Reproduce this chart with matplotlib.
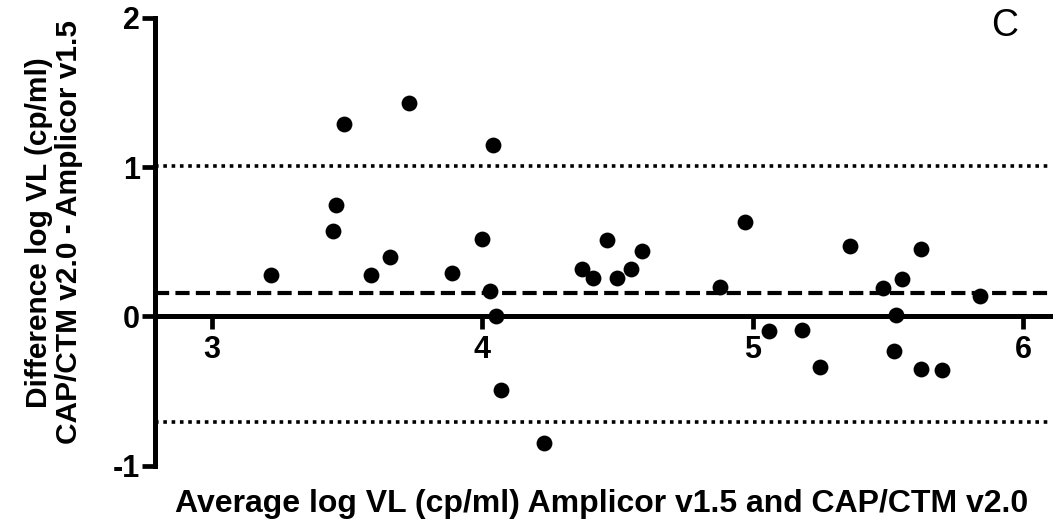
import matplotlib
matplotlib.use("Agg")
import matplotlib.pyplot as plt

plt.rcParams['font.family'] = ['Liberation Sans', 'DejaVu Sans']

avg_vl = [3.22, 3.45, 3.46, 3.49, 3.59, 3.66, 3.73, 3.89, 4.00, 4.04, 4.03, 4.05, 4.07, 4.23,
          4.37, 4.41, 4.46, 4.50, 4.55, 4.59, 4.88, 4.97, 5.06, 5.18, 5.25, 5.36, 5.48,
          5.52, 5.53, 5.55, 5.62, 5.62, 5.70, 5.84]
diff_vl = [0.28, 0.57, 0.75, 1.29, 0.28, 0.40, 1.43, 0.29, 0.52, 1.15, 0.17, 0.00, -0.49, -0.85,
           0.32, 0.26, 0.51, 0.26, 0.32, 0.44, 0.20, 0.63, -0.10, -0.09, -0.34, 0.47, 0.19,
           -0.23, 0.01, 0.25, 0.45, -0.35, -0.36, 0.14]

mean_diff = 0.155
upper_loa = 1.01
lower_loa = -0.71

x_ticks = [3, 4, 5, 6]
y_ticks = [-1, 0, 1, 2]

fig = plt.figure(figsize=(10.6, 5.28), dpi=100)
ax = fig.add_axes([0.146, 0.118, 0.845, 0.848])

ax.axhline(upper_loa, color='black', lw=2.6, linestyle=(0, (1, 1.3)), zorder=2)
ax.axhline(lower_loa, color='black', lw=2.6, linestyle=(0, (1, 1.3)), zorder=2)
ax.axhline(mean_diff, color='black', lw=3.0, linestyle=(0, (3.4, 1.5)), zorder=2)

ax.scatter(avg_vl, diff_vl, s=130, color='black', zorder=4, linewidths=0)

ax.set_xlim(2.79, 6.10)
ax.set_ylim(-1, 2)

for s in ['top', 'right']:
    ax.spines[s].set_visible(False)
ax.spines['bottom'].set_position(('data', 0))
ax.spines['bottom'].set_linewidth(3.6)
ax.spines['left'].set_linewidth(3.6)
ax.spines['bottom'].set_zorder(3)

ax.set_xticks(x_ticks)
ax.set_yticks(y_ticks)
ax.set_xticklabels([str(t) for t in x_ticks], fontsize=22, fontweight='bold')
ax.set_yticklabels([str(t) for t in y_ticks], fontsize=22, fontweight='bold')
ax.tick_params(axis='both', length=9.5, width=3.4, direction='out')
ax.tick_params(axis='y', pad=1)
ax.tick_params(axis='x', pad=4)

fig.text(0.568, 0.046, 'Average log VL (cp/ml) Amplicor v1.5 and CAP/CTM v2.0',
         ha='center', va='center', fontsize=23, fontweight='bold')
fig.text(0.051, 0.56, 'Difference log VL (cp/ml)\nCAP/CTM v2.0 - Amplicor v1.5',
         ha='center', va='center', rotation=90, fontsize=21.5, fontweight='bold',
         linespacing=1.1)
fig.text(0.948, 0.951, 'C', ha='center', va='center', fontsize=27)

fig.savefig('out.png', dpi=100)
